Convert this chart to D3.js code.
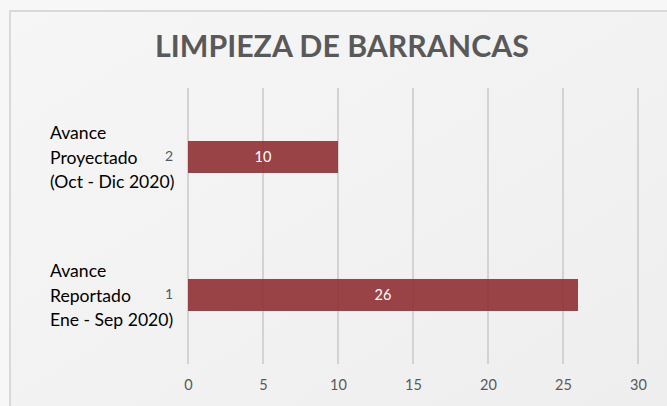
<!DOCTYPE html>
<html>
<head>
<meta charset="utf-8">
<script src="https://cdn.jsdelivr.net/npm/d3@7/dist/d3.min.js"></script>
<style>
  html, body { margin: 0; padding: 0; background: #f7f7f7; }
  svg { display: block; }
</style>
</head>
<body>
<svg id="chart" width="667" height="406"></svg>
<script>
// Chart data
const title = "LIMPIEZA DE BARRANCAS";
const categories = ["1", "2"];
const values = [26, 10];
const categoryNotes = [
  ["Avance", "Reportado", "Ene - Sep 2020)"],
  ["Avance", "Proyectado", "(Oct - Dic 2020)"]
];
const xTicks = [0, 5, 10, 15, 20, 25, 30];

const W = 667, H = 406;
const svg = d3.select("#chart");
const FONT = "Lato, 'Open Sans', sans-serif";

// panel background with a soft gradient and a light frame
const defs = svg.append("defs");
const grad = defs.append("linearGradient").attr("id", "panelBg")
  .attr("x1", "0").attr("y1", "0").attr("x2", "1").attr("y2", "1");
grad.append("stop").attr("offset", "0").attr("stop-color", "#f6f6f6");
grad.append("stop").attr("offset", "1").attr("stop-color", "#eeeeee");

svg.append("rect").attr("x", 0).attr("y", 0).attr("width", W).attr("height", H).attr("fill", "#f7f7f7");
svg.append("rect").attr("x", 11).attr("y", 11).attr("width", W).attr("height", H)
  .attr("fill", "url(#panelBg)");
svg.append("line").attr("x1", 9).attr("x2", W).attr("y1", 11).attr("y2", 11)
  .attr("stroke", "#d9d9d9").attr("stroke-width", 2);
svg.append("line").attr("x1", 10).attr("x2", 10).attr("y1", 10).attr("y2", H)
  .attr("stroke", "#d9d9d9").attr("stroke-width", 2);

// title
svg.append("text")
  .attr("x", 342).attr("y", 57)
  .attr("text-anchor", "middle")
  .attr("font-family", FONT)
  .attr("font-weight", "bold")
  .attr("font-size", 30.3)
  .attr("fill", "#595959")
  .text(title);

// scales
const plot = { left: 188, right: 638, top: 88, bottom: 364 };
const x = d3.scaleLinear().domain([0, 30]).range([plot.left, plot.right]);
const y = d3.scaleBand()
  .domain(categories.slice().reverse())
  .range([plot.top, plot.bottom])
  .paddingInner(0.768)
  .paddingOuter(0.384);

// vertical gridlines
svg.append("g").selectAll("line")
  .data(xTicks)
  .join("line")
  .attr("x1", d => x(d)).attr("x2", d => x(d))
  .attr("y1", plot.top).attr("y2", plot.bottom)
  .attr("stroke", "#c9c9c9").attr("stroke-width", 1.5);

// x-axis tick labels
const xAxis = d3.axisBottom(x).tickValues(xTicks).tickSize(0).tickPadding(0);
const gx = svg.append("g").attr("transform", `translate(0,${plot.bottom + 26})`).call(xAxis);
gx.select(".domain").remove();
gx.selectAll("text")
  .attr("dy", 0)
  .attr("font-family", FONT)
  .attr("font-size", 14.5)
  .attr("fill", "#595959");

// category axis labels (small numbers)
const yAxis = d3.axisLeft(y).tickSize(0).tickPadding(15);
const gy = svg.append("g").attr("transform", `translate(${plot.left},0)`).call(yAxis);
gy.select(".domain").remove();
gy.selectAll("text")
  .attr("font-family", FONT)
  .attr("font-size", 14)
  .attr("fill", "#595959");

// bars
const rows = categories.map((c, i) => ({ cat: c, value: values[i], note: categoryNotes[i] }));
svg.append("g").selectAll("rect")
  .data(rows)
  .join("rect")
  .attr("x", x(0))
  .attr("y", d => y(d.cat))
  .attr("width", d => x(d.value) - x(0))
  .attr("height", y.bandwidth())
  .attr("fill", "#8f3034")
  .attr("fill-opacity", 0.9);

// value labels inside bars
svg.append("g").selectAll("text")
  .data(rows)
  .join("text")
  .attr("x", d => (x(0) + x(d.value)) / 2)
  .attr("y", d => y(d.cat) + y.bandwidth() / 2)
  .attr("dy", "0.35em")
  .attr("text-anchor", "middle")
  .attr("font-family", FONT)
  .attr("font-size", 14.5)
  .attr("fill", "#ffffff")
  .text(d => d.value);

// descriptive category notes
const notes = svg.append("g").selectAll("text")
  .data(rows)
  .join("text")
  .attr("font-family", FONT)
  .attr("font-size", 17.6)
  .attr("fill", "#000000");
notes.each(function(d) {
  const cy = y(d.cat) + y.bandwidth() / 2;
  d3.select(this).selectAll("tspan")
    .data(d.note)
    .join("tspan")
    .attr("x", 50)
    .attr("y", (t, j) => cy + (j - 1) * 24.5 + 6.5)
    .text(t => t);
});
</script>
</body>
</html>
